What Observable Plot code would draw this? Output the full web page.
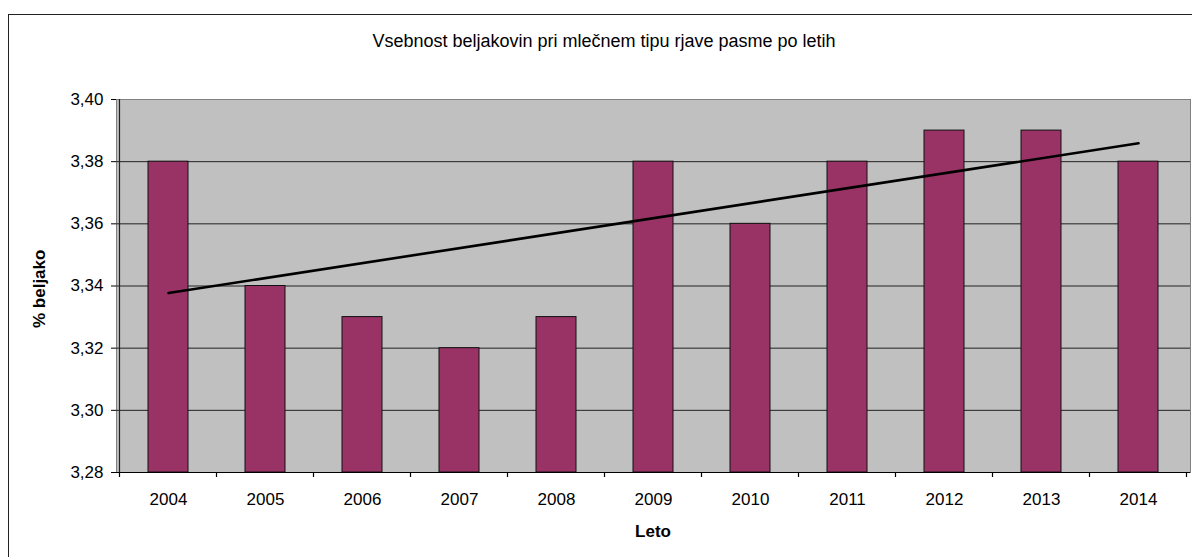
<!DOCTYPE html>
<html>
<head>
<meta charset="utf-8">
<script src="https://cdn.jsdelivr.net/npm/d3@7"></script>
<script src="https://cdn.jsdelivr.net/npm/@observablehq/plot@0.6"></script>
<style>
  html, body { margin: 0; padding: 0; background: #fff; }
  #wrap { position: relative; width: 1192px; height: 557px; overflow: hidden; font-family: "Liberation Sans", Arial, sans-serif; }
  #border { position: absolute; left: 8px; top: 14px; width: 1200px; height: 600px; border: 1.5px solid #222; box-sizing: border-box; }
  #title { position: absolute; left: 0; top: 31px; width: 1208px; text-align: center; font-size: 18px; color: #000; }
  #ytitle { position: absolute; left: 40px; top: 328px; transform: rotate(-90deg); transform-origin: 0 0; font-size: 17px; font-weight: bold; white-space: nowrap; line-height: 1; margin-left: -9px; }
  #chart { position: absolute; left: 0; top: 0; }
</style>
</head>
<body>
<div id="wrap">
  <div id="border"></div>
  <div id="title">Vsebnost beljakovin pri mlečnem tipu rjave pasme po letih</div>
  <div id="ytitle">% beljako</div>
  <div id="chart"></div>
</div>
<script>
const years = ["2004","2005","2006","2007","2008","2009","2010","2011","2012","2013","2014"];
const protein = [3.38, 3.34, 3.33, 3.32, 3.33, 3.38, 3.36, 3.38, 3.39, 3.39, 3.38];
const yTicks = [3.28, 3.30, 3.32, 3.34, 3.36, 3.38, 3.40];
const xLabel = "Leto";

const data = years.map((y, i) => ({year: y, value: protein[i]}));

// linear trend (least squares) over the year index
const n = protein.length;
const xm = (n - 1) / 2;
const ym = d3.mean(protein);
let sxy = 0, sxx = 0;
protein.forEach((v, i) => { sxy += (i - xm) * (v - ym); sxx += (i - xm) ** 2; });
const slope = sxy / sxx;
const trend = [0, n - 1].map(i => ({year: years[i], value: ym + slope * (i - xm)}));

const fmt = v => d3.format(".2f")(v).replace(".", ",");

const chart = Plot.plot({
  width: 1192,
  height: 557,
  marginLeft: 116,
  marginRight: 2,
  marginTop: 99,
  marginBottom: 85,
  style: {fontFamily: "Liberation Sans, Arial, sans-serif", fontSize: "16px", color: "#000", background: "transparent"},
  x: {domain: years, paddingInner: 0.59, paddingOuter: 0.295, label: null},
  y: {domain: [yTicks[0], yTicks[yTicks.length - 1]], label: null},
  marks: [
    Plot.frame({fill: "#c0c0c0", stroke: "#808080"}),
    Plot.ruleY(yTicks.slice(1, -1), {stroke: "#222", strokeWidth: 1}),
    Plot.barY(data, {x: "year", y1: yTicks[0], y2: "value", fill: "#993366", stroke: "#111", strokeWidth: 1}),
    Plot.line(trend, {x: "year", y: "value", stroke: "#000", strokeWidth: 2.6}),
    Plot.axisY({ticks: yTicks, tickFormat: fmt, tickSize: 5, tickPadding: 8, fontSize: 17, label: null}),
    Plot.axisX({tickSize: 0, tickPadding: 20, fontSize: 17, label: null}),
    Plot.ruleY([yTicks[0]], {stroke: "#000", strokeWidth: 1.2})
  ]
});

// left axis line and between-category ticks using the library's scales
const xs = chart.scale("x");
const ys = chart.scale("y");
const svg = d3.select(chart);
const step = xs.step, bw = xs.bandwidth;
const bounds = years.map(v => xs.apply(v) + bw / 2 - step / 2);
bounds.push(xs.apply(years[n - 1]) + bw / 2 + step / 2);
const g = svg.append("g").attr("stroke", "#000").attr("stroke-width", 1.2);
g.append("line").attr("x1", bounds[0]).attr("x2", bounds[0]).attr("y1", ys.apply(yTicks[0])).attr("y2", ys.apply(yTicks[yTicks.length - 1])).attr("stroke", "#222");
bounds.forEach(b => g.append("line").attr("x1", b).attr("x2", b).attr("y1", ys.apply(yTicks[0])).attr("y2", ys.apply(yTicks[0]) + 5));
svg.append("text").attr("x", (bounds[0] + bounds[n]) / 2).attr("y", ys.apply(yTicks[0]) + 65)
  .attr("text-anchor", "middle").attr("font-weight", "bold").attr("font-size", 17).text(xLabel);

document.getElementById("chart").appendChild(chart);
</script>
</body>
</html>
